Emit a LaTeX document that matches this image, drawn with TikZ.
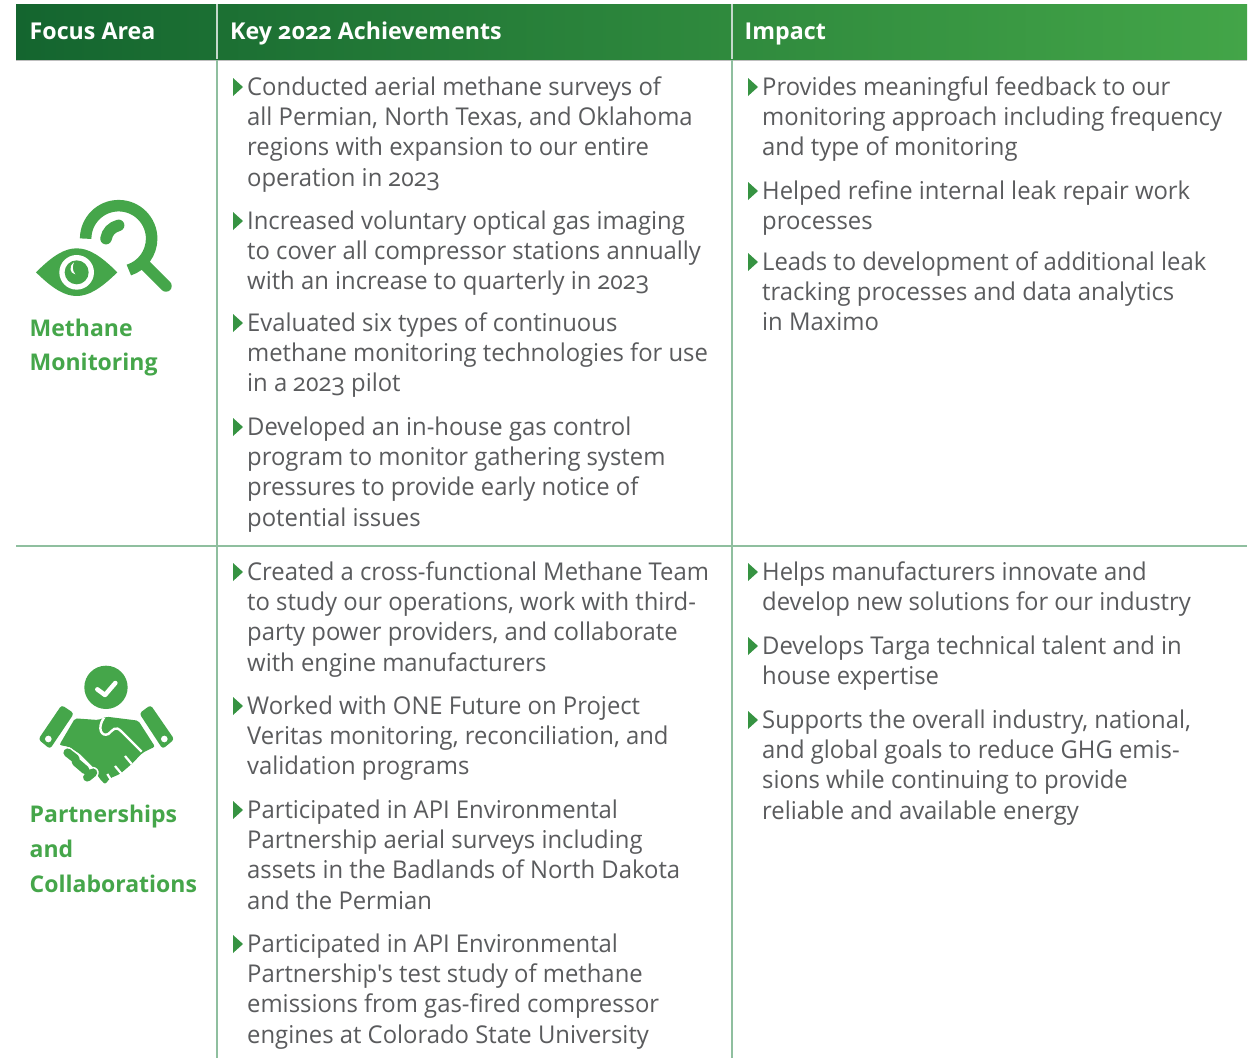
\documentclass[tikz,border=0pt]{standalone}
\usepackage{fontspec}
\setmainfont[Numbers=OldStyle]{Open Sans}
\newfontfamily\bodyface[Numbers=OldStyle,FakeStretch=0.973]{Open Sans}
\newfontfamily\headface[Numbers=OldStyle,BoldFont={Open Sans Bold}]{Open Sans}
\usetikzlibrary{shapes.geometric}
\definecolor{hdL}{HTML}{14652F}
\definecolor{hdR}{HTML}{43A548}
\definecolor{rulec}{HTML}{8FBF9F}
\definecolor{txt}{HTML}{5A5B5D}
\definecolor{grn}{HTML}{45A64A}
\tikzset{
  body/.style={anchor=north west,inner sep=0pt,align=left,text=txt,font=\bodyface\fontsize{24.5}{30.2}\selectfont},
  head/.style={anchor=base west,inner sep=0pt,text=white,font=\fontsize{23.2}{28}\selectfont\bfseries},
  side/.style={anchor=base west,inner sep=0pt,text=grn,font=\fontsize{23}{28}\selectfont\bfseries}
}
\tikzset{gridline/.style={draw=rulec,line width=1.6pt}}
\newcommand{\itemat}[4]{%
  \fill[grn!70!hdL] (#2-15,#3-9) -- (#2-5,#3) -- (#2-15,#3+9) -- cycle;
  \node[body] (#1) at (#2-1,#3-25.2) {\rule{0pt}{33.5pt}\ignorespaces #4};}
\begin{document}
\begin{tikzpicture}[x=1pt,y=-1pt]
\useasboundingbox (0,0) rectangle (1255,1058);
\fill[white] (0,0) rectangle (1255,1058);
\fill[black!25] (16,59) rectangle (1247,61);
\shade[left color=hdL,right color=hdR] (16,4) rectangle (1247,59);
\draw[white!75!hdL,line width=1.6pt] (217,4) -- (217,59) (732,4) -- (732,59);
\draw[gridline] (217,60) -- (217,1058) (732,60) -- (732,1058) (16,546) -- (1247,546);
\node[head] (h1) at (29.5,39) {Focus Area};
\node[head] (h2) at (230,39) {Key 2022 Achievements};
\node[head] (h3) at (744.5,39) {Impact};
% column 2
\itemat{a1}{248}{87}{Conducted aerial methane surveys of\\all Permian, North Texas, and Oklahoma\\regions with expansion to our entire\\operation in 2023}
\itemat{a2}{248}{221}{Increased voluntary optical gas imaging\\to cover all compressor stations annually\\with an increase to quarterly in 2023}
\itemat{a3}{248}{323}{Evaluated six types of continuous\\methane monitoring technologies for use\\in a 2023 pilot}
\itemat{a4}{248}{427}{Developed an in-house gas control\\program to monitor gathering system\\pressures to provide early notice of\\potential issues}
\itemat{a5}{248}{572}{Created a cross-functional Methane Team\\to study our operations, work with third-\\party power providers, and collaborate\\with engine manufacturers}
\itemat{a6}{248}{706}{Worked with ONE Future on Project\\Veritas monitoring, reconciliation, and\\validation programs}
\itemat{a7}{248}{810}{Participated in API Environmental\\Partnership aerial surveys including\\assets in the Badlands of North Dakota\\and the Permian}
\itemat{a8}{248}{944}{Participated in API Environmental\\Partnership's test study of methane\\emissions from gas-fired compressor\\engines at Colorado State University}
% column 3
\itemat{b1}{763}{87}{Provides meaningful feedback to our\\monitoring approach including frequency\\and type of monitoring}
\itemat{b2}{763}{191}{Helped refine internal leak repair work\\processes}
\itemat{b3}{763}{262}{Leads to development of additional leak\\tracking processes and data analytics\\in Maximo}
\itemat{b4}{763}{572}{Helps manufacturers innovate and\\develop new solutions for our industry}
\itemat{b5}{763}{646}{Develops Targa technical talent and in\\house expertise}
\itemat{b6}{763}{720}{Supports the overall industry, national,\\and global goals to reduce GHG emis-\\sions while continuing to provide\\reliable and available energy}
% side labels
\node[side] (s1) at (29.5,336.5) {Methane};
\node[side] (s2) at (29.5,370.5) {Monitoring};
\node[side] (s3) at (29.5,822.5) {Partnerships};
\node[side] (s4) at (29.5,857.5) {and};
\node[side] (s5) at (29.5,892.5) {Collaborations};
% eye and magnifier icon
\begin{scope}[shift={(0,180)},x=0.3333pt,y=-0.3333pt]
\fill[grn] (108,277) .. controls (160,225) and (195,205) .. (230,205) .. controls (265,205) and (300,225) .. (352,277) .. controls (300,328) and (265,348) .. (230,348) .. controls (195,348) and (160,328) .. (108,277) -- cycle;
\fill[white] (230,277) circle (52);
\fill[grn] (230,277) circle (36);
\fill[white] (222,247) .. controls (205,260) and (210,280) .. (226,283) .. controls (215,270) and (218,258) .. (222,247) -- cycle;
\draw[grn,line width=11.5pt] (257,176) arc[start angle=180,end angle=-72,x radius=99,y radius=-99];
\draw[grn,line width=11.5pt,line cap=round] (438,258) -- (498,318);
\draw[grn,line width=11.5pt,line cap=round] (318,176) .. controls (322,155) and (335,142) .. (356,136);
\end{scope}
% handshake icon
\begin{scope}[shift={(0,650)},x=0.3333pt,y=-0.3333pt]
\fill[grn] (318,112) circle (65);
\draw[white,line width=4.5pt,line cap=round,line join=round] (292,118) -- (315,135) -- (346,99);
\fill[grn,rounded corners=3pt] (185,165) -- (222,190) -- (150,297) -- (115,268) -- cycle;
\fill[grn,rounded corners=3pt] (452,165) -- (418,190) -- (488,297) -- (523,268) -- cycle;
\fill[white] (145,267) circle (10) (493,267) circle (10);
\fill[grn,rounded corners=2pt] (178,285) -- (225,205) -- (295,210) -- (320,200) -- (415,212) -- (465,290) -- (428,308) -- (395,342) -- (360,372) -- (330,385) -- (315,403) -- (298,385) -- (280,352) -- (240,312) -- (205,290) -- cycle;
\draw[white,line width=2.4pt] (312,203) .. controls (290,235) and (305,262) .. (325,252) .. controls (340,240) and (345,225) .. (365,245) -- (425,305);
\draw[white,line width=2.2pt] (375,318) -- (395,342) (345,348) -- (365,372) (322,372) -- (332,388);
\draw[white,line width=11.5pt,line cap=round] (203,308) -- (226,326) (228,336) -- (256,360) (262,382) -- (279,368);
\draw[grn,line width=8.5pt,line cap=round] (203,308) -- (226,326) (228,336) -- (256,360) (262,382) -- (279,368);
\end{scope}
\end{tikzpicture}
\end{document}
